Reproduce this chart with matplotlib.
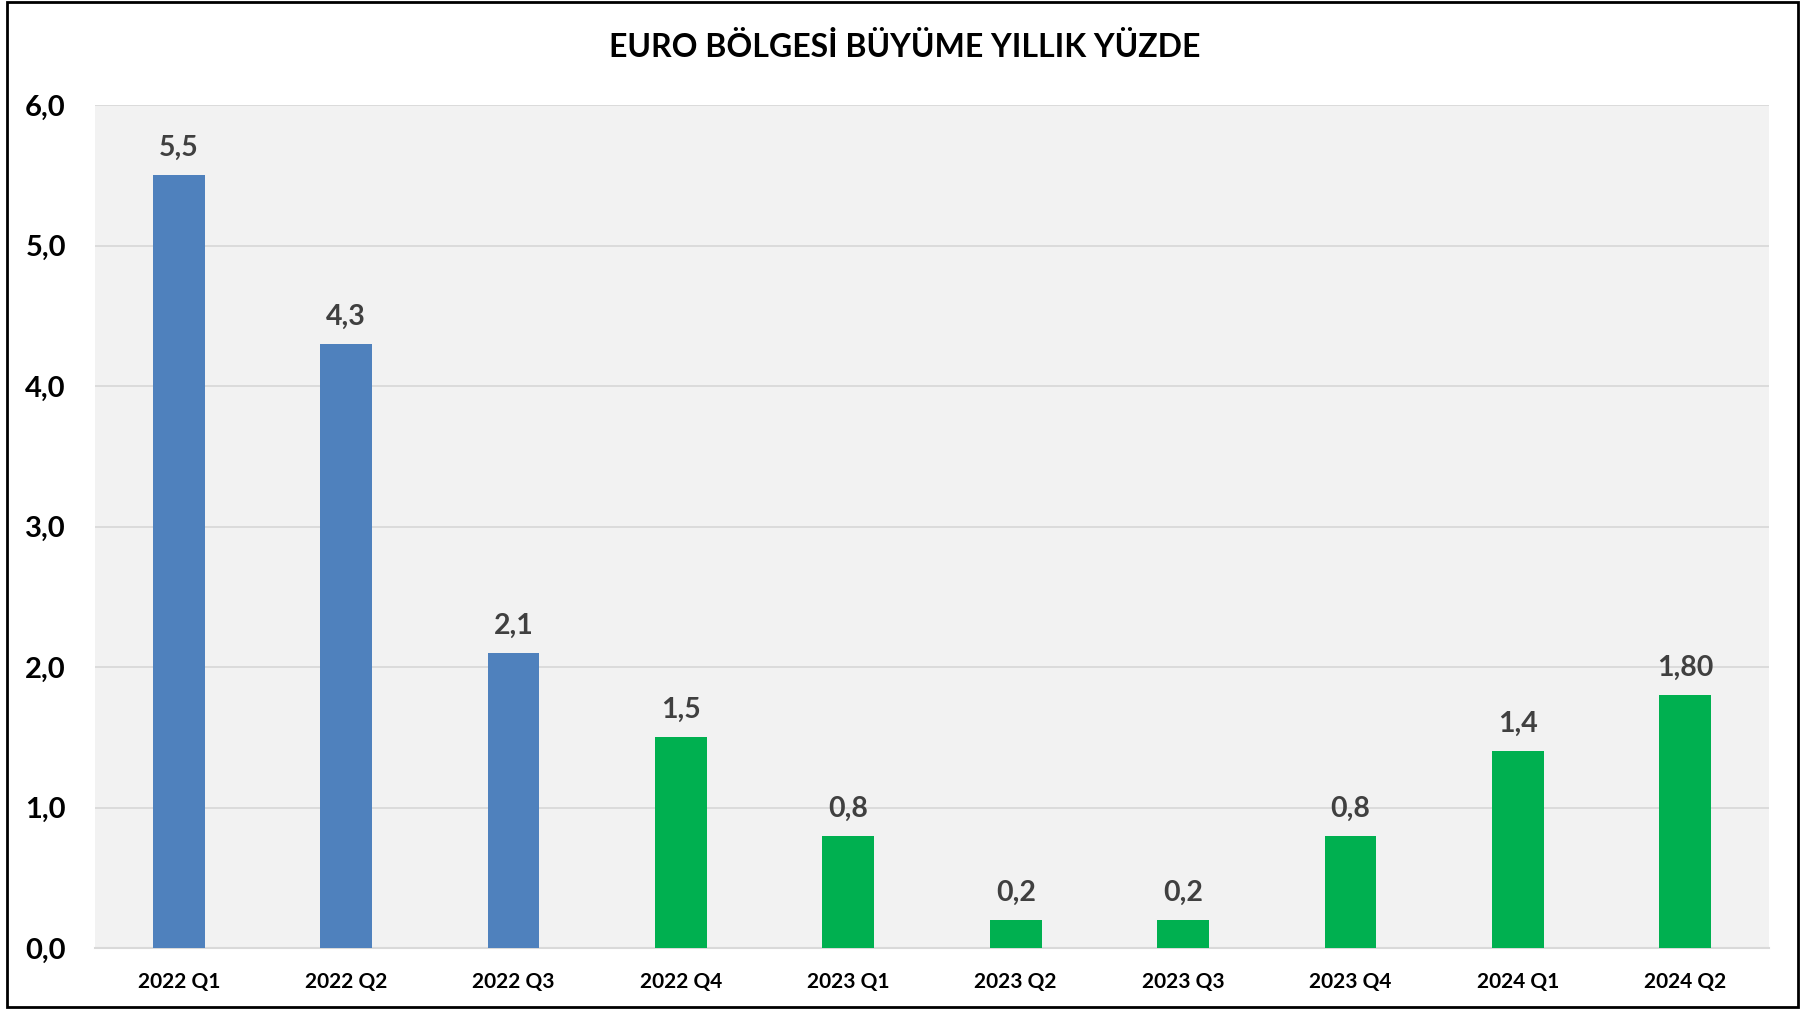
import matplotlib.pyplot as plt
from matplotlib.patches import Rectangle
import numpy as np

# data
quarters = ['2022 Q1', '2022 Q2', '2022 Q3', '2022 Q4', '2023 Q1',
            '2023 Q2', '2023 Q3', '2023 Q4', '2024 Q1', '2024 Q2']
growth = [5.5, 4.3, 2.1, 1.5, 0.8, 0.2, 0.2, 0.8, 1.4, 1.80]
value_labels = ['5,5', '4,3', '2,1', '1,5', '0,8', '0,2', '0,2', '0,8', '1,4', '1,80']
yticks = [0.0, 1.0, 2.0, 3.0, 4.0, 5.0, 6.0]

BLUE = '#4F81BD'
GREEN = '#00B050'
colors = [BLUE] * 3 + [GREEN] * 7

plt.rcParams['font.family'] = ['Lato', 'DejaVu Sans']

fig = plt.figure(figsize=(18.10, 10.09), dpi=100)
fig.patch.set_facecolor('white')
# outer frame
fig.add_artist(Rectangle((7 / 1810, 1 - 1007 / 1009), 1791 / 1810, 1005 / 1009,
                         transform=fig.transFigure, fill=False,
                         edgecolor='black', linewidth=2))

ax = fig.add_axes([95 / 1810, 1 - 948 / 1009, (1769 - 95) / 1810, (948 - 105) / 1009])
ax.set_facecolor('#F2F2F2')

x = np.arange(len(quarters))
ax.bar(x, growth, width=0.31, color=colors, zorder=3)

for xi, v, lab in zip(x, growth, value_labels):
    ax.text(xi, v + 0.10, lab, ha='center', va='bottom', fontsize=20.5,
            fontweight='bold', color='#404040')

ax.set_xlim(-0.5, len(quarters) - 0.5)
ax.set_ylim(0, 6)
ax.set_yticks(yticks)
ax.set_yticklabels([f'{t:.1f}'.replace('.', ',') for t in yticks],
                   fontsize=21, fontweight='bold')
ax.set_xticks(x)
ax.set_xticklabels(quarters, fontsize=15, fontweight='bold')
ax.tick_params(axis='both', length=0)
ax.tick_params(axis='y', pad=21)
ax.tick_params(axis='x', pad=17)

ax.grid(axis='y', color='#D9D9D9', linewidth=1.3, zorder=0)
for s in ['top', 'right', 'left']:
    ax.spines[s].set_visible(False)
ax.spines['bottom'].set_color('#D9D9D9')
ax.spines['bottom'].set_linewidth(1.5)

fig.text(0.5, 1 - 47 / 1009, 'EURO BÖLGESİ BÜYÜME YILLIK YÜZDE', ha='center',
         va='center', fontsize=23, fontweight='bold', color='black')

fig.savefig('out.png', dpi=100)
